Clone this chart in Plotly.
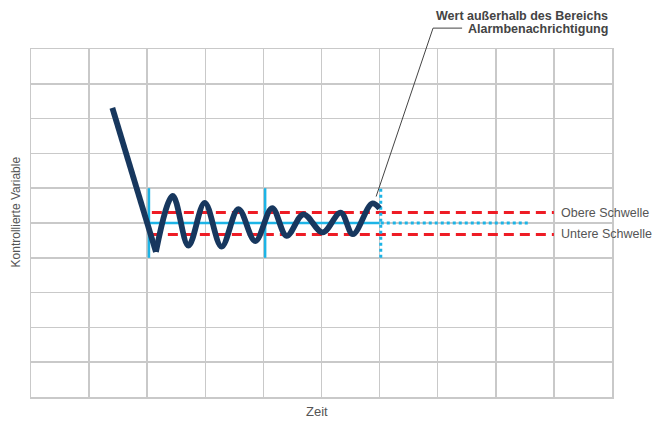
import plotly.graph_objects as go

# ---- data ----
descent_time = [1.40, 2.15]
descent_value = [8.31, 4.17]
time_curve = [2.15, 2.44, 2.71, 2.99, 3.28, 3.57, 3.86, 4.15, 4.40, 4.69, 5.02, 5.33, 5.54, 5.87, 6.00]
value_curve = [4.17, 5.78, 4.35, 5.58, 4.32, 5.40, 4.48, 5.43, 4.63, 5.25, 4.73, 5.30, 4.68, 5.56, 5.42]

setpoint = 5.0
upper_threshold = 5.30
lower_threshold = 4.67
threshold_x = [2.08, 9.0]

setpoint_solid_x = [2.0, 6.0]
setpoint_dotted_x = [6.02, 8.57]

marker_times = [2.03, 4.03]
alarm_time = 6.02
marker_span = [4.0, 6.0]

threshold_labels = ["Obere Schwelle", "Untere Schwelle"]
callout_lines = ["Wert außerhalb des Bereichs", "Alarmbenachrichtigung"]
x_title = "Zeit"
y_title = "Kontrollierte Variable"

FONT = "Liberation Sans, Arial, Helvetica, sans-serif"
NAVY = "#17375e"
RED = "#ee1c25"
CYAN = "#1cb4e6"
GRID = "#c9c9c9"
TEXT = "#555555"

fig = go.Figure()

# thresholds
for yv in (upper_threshold, lower_threshold):
    fig.add_trace(go.Scatter(x=threshold_x, y=[yv, yv], mode="lines",
                             line=dict(color=RED, width=3, dash="10px,6px"),
                             hoverinfo="skip"))

# setpoint
fig.add_trace(go.Scatter(x=setpoint_solid_x, y=[setpoint, setpoint], mode="lines",
                         line=dict(color=CYAN, width=2.5), hoverinfo="skip"))
fig.add_trace(go.Scatter(x=setpoint_dotted_x, y=[setpoint, setpoint], mode="lines",
                         line=dict(color=CYAN, width=3, dash="3px,3px"), hoverinfo="skip"))

# vertical markers
for t in marker_times:
    fig.add_trace(go.Scatter(x=[t, t], y=marker_span, mode="lines",
                             line=dict(color=CYAN, width=2.5), hoverinfo="skip"))
fig.add_trace(go.Scatter(x=[alarm_time, alarm_time], y=marker_span, mode="lines",
                         line=dict(color=CYAN, width=3, dash="3px,3px"), hoverinfo="skip"))

# controlled variable
fig.add_trace(go.Scatter(x=descent_time, y=descent_value, mode="lines",
                         line=dict(color=NAVY, width=5.8), hoverinfo="skip"))
fig.add_trace(go.Scatter(x=time_curve, y=value_curve, mode="lines",
                         line=dict(color=NAVY, width=5.8, shape="spline", smoothing=1.0),
                         hoverinfo="skip"))

ann = []
for lbl, yv in zip(threshold_labels, (upper_threshold, lower_threshold)):
    ann.append(dict(x=9.08, y=yv, xref="x", yref="y", text=lbl, showarrow=False,
                    xanchor="left", yanchor="middle",
                    font=dict(family=FONT, size=12.5, color=TEXT)))
ann.append(dict(x=0.997, y=1.096, xref="paper", yref="paper", text="<b>" + callout_lines[0] + "</b>",
                showarrow=False, xanchor="right", yanchor="middle",
                font=dict(family=FONT, size=12.5, color="#444444")))
ann.append(dict(x=0.997, y=1.058, xref="paper", yref="paper", text="<b>" + callout_lines[1] + "</b>",
                showarrow=False, xanchor="right", yanchor="middle",
                font=dict(family=FONT, size=12.5, color="#444444")))
ann.append(dict(x=-0.026, y=0.533, xref="paper", yref="paper", text=y_title, showarrow=False,
                textangle=-90, xanchor="center", yanchor="middle",
                font=dict(family=FONT, size=12, color=TEXT)))
ann.append(dict(x=0.493, y=-0.043, xref="paper", yref="paper", text=x_title, showarrow=False,
                xanchor="center", yanchor="middle",
                font=dict(family=FONT, size=13, color=TEXT)))

# callout leader line (paper coords = data/10 since both ranges are 0..10)
leader = "M 0.742 1.060 L 0.692 1.060 L 0.594 0.576"

fig.update_layout(
    width=656, height=422,
    margin=dict(l=31, r=44.3, t=49.3, b=25.3),
    paper_bgcolor="white", plot_bgcolor="white",
    showlegend=False, hovermode=False,
    annotations=ann,
    shapes=[dict(type="path", path=leader, xref="paper", yref="paper",
                 line=dict(color="#444444", width=1))],
    xaxis=dict(range=[0, 10], dtick=1, tick0=0, showgrid=True, gridcolor=GRID, gridwidth=1.5,
               showticklabels=False, ticks="", zeroline=False,
               showline=True, mirror=True, linecolor=GRID, linewidth=1.5, fixedrange=True),
    yaxis=dict(range=[0, 10], dtick=1, tick0=0, showgrid=True, gridcolor=GRID, gridwidth=1.5,
               showticklabels=False, ticks="", zeroline=False,
               showline=True, mirror=True, linecolor=GRID, linewidth=1.5, fixedrange=True),
)

# remove the default page margin so the 656x422 figure fills the window exactly
fig.write_html("out.html",
               config={"displayModeBar": False, "staticPlot": True},
               post_script="document.body.style.margin='0px';document.body.style.overflow='hidden';")
